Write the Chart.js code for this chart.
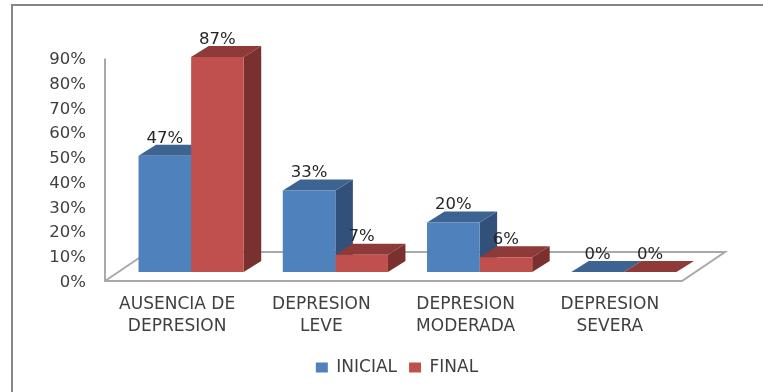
<!DOCTYPE html>
<html>
<head>
<meta charset="utf-8">
<script src="https://cdn.jsdelivr.net/npm/chart.js@4"></script>
<style>
  html, body { margin: 0; padding: 0; background: #fff; }
  #wrap { width: 763px; height: 392px; }
</style>
</head>
<body>
<div id="wrap"><canvas id="chart" width="763" height="392"></canvas></div>
<script>
const categories = [['AUSENCIA DE', 'DEPRESION'], ['DEPRESION', 'LEVE'], ['DEPRESION', 'MODERADA'], ['DEPRESION', 'SEVERA']];
const inicial = [47, 33, 20, 0];
const final = [87, 7, 6, 0];
const yTicks = [0, 10, 20, 30, 40, 50, 60, 70, 80, 90];

const FONT = '"DejaVu Sans", sans-serif';
const palette = {
  INICIAL: { front: '#4f81bd', top: '#3d6491', side: '#31507a' },
  FINAL: { front: '#c0504d', top: '#8e3a38', side: '#7a302e' }
};
const DEPTH_X = 17.5, DEPTH_Y = 11;

function face(ctx, pts, color) {
  ctx.fillStyle = color;
  ctx.beginPath();
  pts.forEach((p, i) => i ? ctx.lineTo(p[0], p[1]) : ctx.moveTo(p[0], p[1]));
  ctx.closePath();
  ctx.fill();
}

// Box sides and floor are painted under the fronts the bar elements draw.
const prism = {
  id: 'prism',
  beforeDraw(chart) {
    const { ctx, width, height, chartArea: a } = chart;
    ctx.save();
    ctx.strokeStyle = '#868686';
    ctx.lineWidth = 2;
    ctx.beginPath();
    ctx.moveTo(12, height);
    ctx.lineTo(12, 5);
    ctx.lineTo(width, 5);
    ctx.stroke();

    const left = a.left - 14, right = a.right - 14;
    const top = a.top - 1.5, bottom = a.bottom - 1.5;
    ctx.strokeStyle = '#a9a9a9';
    ctx.beginPath();
    ctx.moveTo(left, top);
    ctx.lineTo(left, bottom);
    ctx.lineTo(right, bottom);
    ctx.lineTo(right + 43, bottom - 29);
    ctx.lineTo(left + 43, bottom - 29);
    ctx.lineTo(left, bottom);
    ctx.stroke();
    ctx.restore();
  },
  beforeDatasetsDraw(chart) {
    const { ctx } = chart;
    chart.data.datasets.forEach((ds, i) => {
      const colors = palette[ds.label];
      chart.getDatasetMeta(i).data.forEach(bar => {
        const { x, y, base, width } = bar.getProps(['x', 'y', 'base', 'width']);
        const l = x - width / 2, r = x + width / 2;
        if (base - y > 0.5) {
          face(ctx, [[r, y], [r + DEPTH_X, y - DEPTH_Y], [r + DEPTH_X, base - DEPTH_Y], [r, base]], colors.side);
        }
        face(ctx, [[l, y], [l + DEPTH_X, y - DEPTH_Y], [r + DEPTH_X, y - DEPTH_Y], [r, y]], colors.top);
      });
    });
  },
  afterDatasetsDraw(chart) {
    const { ctx } = chart;
    ctx.save();
    ctx.font = '16.5px ' + FONT;
    ctx.fillStyle = '#262626';
    ctx.textAlign = 'center';
    ctx.textBaseline = 'middle';
    chart.data.datasets.forEach((ds, i) => {
      chart.getDatasetMeta(i).data.forEach((bar, j) => {
        ctx.fillText(ds.data[j] + '%', bar.x, bar.y - 17.5);
      });
    });
    ctx.restore();
  },
  afterLayout(chart) {
    // Legend sits to the right of the canvas centre.
    chart.legend.left += 49;
    chart.legend.right += 49;
  }
};

new Chart(document.getElementById('chart'), {
  type: 'bar',
  data: {
    labels: categories,
    datasets: [
      { label: 'INICIAL', data: inicial, backgroundColor: palette.INICIAL.front, yAxisID: 'yBars', clip: false },
      { label: 'FINAL', data: final, backgroundColor: palette.FINAL.front, yAxisID: 'yBars', clip: false }
    ]
  },
  options: {
    responsive: false,
    animation: false,
    layout: { padding: { top: 60, left: 0, right: 67, bottom: 6 } },
    datasets: { bar: { categoryPercentage: 105 / 144, barPercentage: 1 } },
    plugins: {
      tooltip: { enabled: false },
      legend: {
        position: 'bottom',
        labels: {
          boxWidth: 12, boxHeight: 10, padding: 12,
          color: '#404040',
          font: { family: FONT, size: 17 }
        }
      }
    },
    scales: {
      x: {
        grid: { display: false },
        border: { display: false },
        ticks: {
          labelOffset: -14, maxRotation: 0, autoSkip: false, padding: 3,
          color: '#404040',
          font: { family: FONT, size: 17, lineHeight: 1.3 }
        },
        afterFit(s) { s.height = 64.5; }
      },
      y: {
        min: 0, max: 90,
        grid: { display: false },
        border: { display: false },
        afterBuildTicks(s) { s.ticks = yTicks.map(v => ({ value: v })); },
        afterFit(s) { s.width = 119; },
        ticks: {
          padding: 25,
          color: '#404040',
          font: { family: FONT, size: 16.5 },
          callback: v => v + '%'
        }
      },
      // Hidden scale whose zero lies above the front floor edge.
      yBars: {
        display: false,
        min: -4.25, max: 85.75
      }
    }
  },
  plugins: [prism]
});
</script>
</body>
</html>
